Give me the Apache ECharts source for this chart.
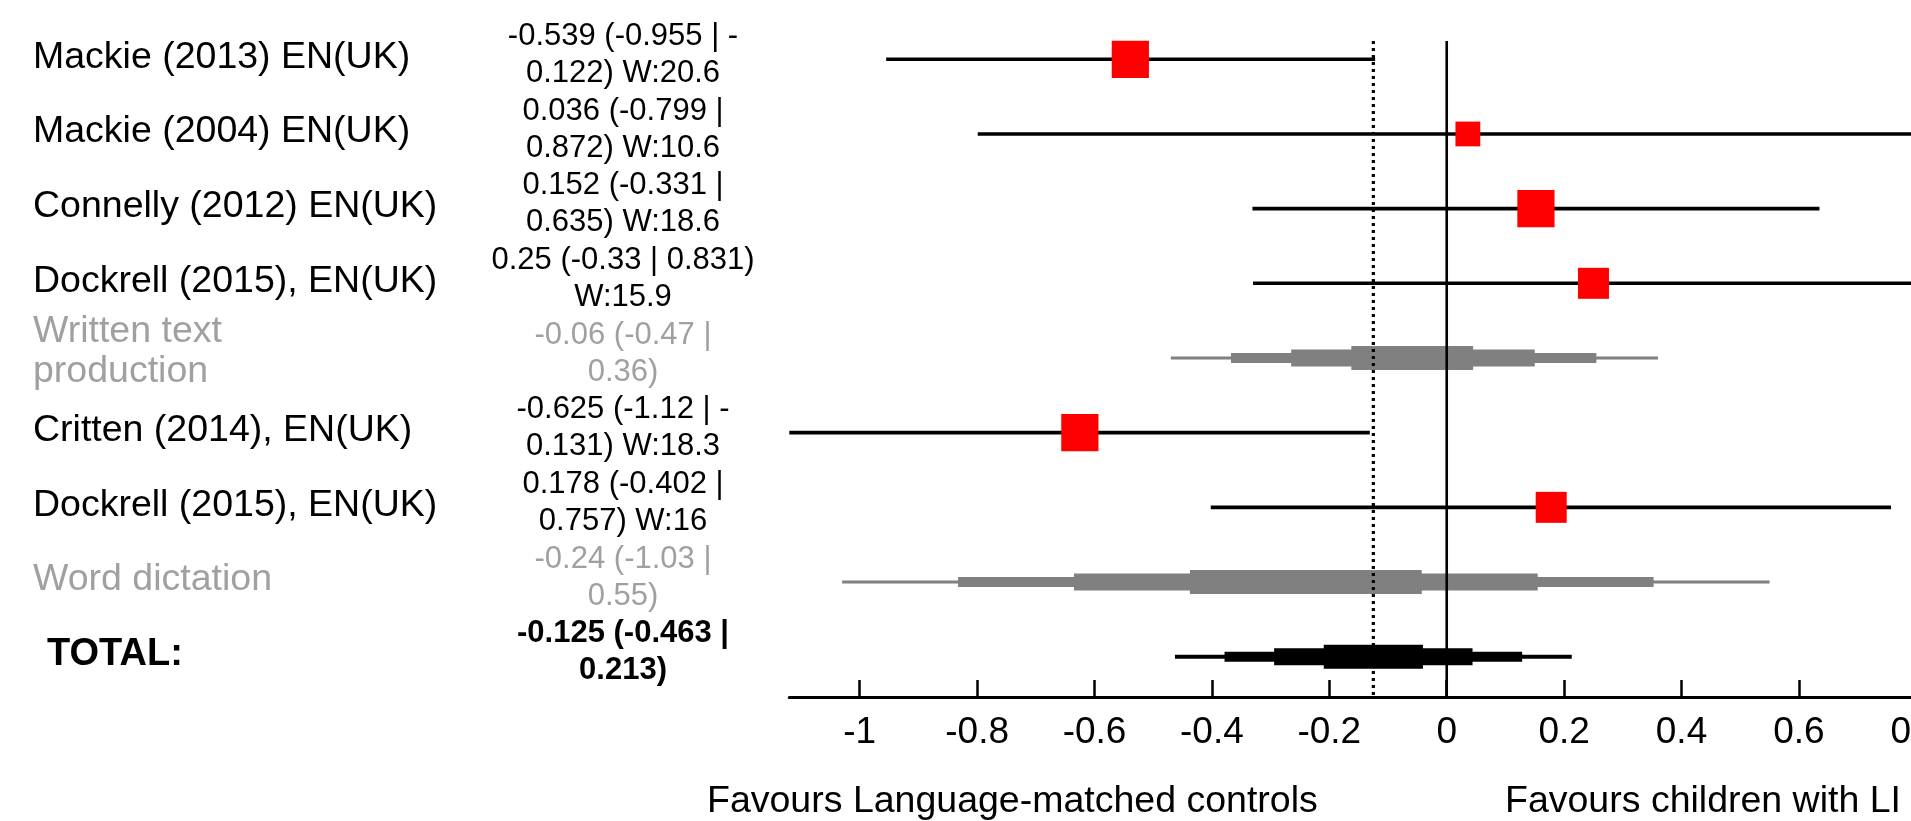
<!DOCTYPE html>
<html>
<head>
<meta charset="utf-8">
<script src="https://cdn.jsdelivr.net/npm/echarts@6/dist/echarts.min.js"></script>
<style>
  html, body { margin: 0; padding: 0; background: #fff; }
  #chart { width: 1911px; height: 821px; }
</style>
</head>
<body>
<div id="chart"></div>
<script>
// ---- data ----
const rowLabels = ["Mackie (2013) EN(UK)", "Mackie (2004) EN(UK)", "Connelly (2012) EN(UK)", "Dockrell (2015), EN(UK)",
  "Written text\nproduction", "Critten (2014), EN(UK)", "Dockrell (2015), EN(UK)", "Word dictation", "TOTAL:"];
const rowKinds = ["study", "study", "study", "study", "subgroup", "study", "study", "subgroup", "total"];
const estimates = [-0.539, 0.036, 0.152, 0.25, -0.06, -0.625, 0.178, -0.24, -0.125];
const lowerCI = [-0.955, -0.799, -0.331, -0.33, -0.47, -1.12, -0.402, -1.03, -0.463];
const upperCI = [-0.122, 0.872, 0.635, 0.831, 0.36, -0.131, 0.757, 0.55, 0.213];
const weights = [20.6, 10.6, 18.6, 15.9, null, 18.3, 16, null, null];
const ciTexts = ["-0.539 (-0.955 | -\n0.122) W:20.6", "0.036 (-0.799 |\n0.872) W:10.6", "0.152 (-0.331 |\n0.635) W:18.6",
  "0.25 (-0.33 | 0.831)\nW:15.9", "-0.06 (-0.47 |\n0.36)", "-0.625 (-1.12 | -\n0.131) W:18.3", "0.178 (-0.402 |\n0.757) W:16",
  "-0.24 (-1.03 |\n0.55)", "-0.125 (-0.463 |\n0.213)"];
const tickValues = [-1, -0.8, -0.6, -0.4, -0.2, 0, 0.2, 0.4, 0.6, 0.8];
const tickLabels = ["-1", "-0.8", "-0.6", "-0.4", "-0.2", "0", "0.2", "0.4", "0.6", "0.8"];
const nullEffect = 0;
const leftNote = "Favours Language-matched controls";
const rightNote = "Favours children with LI";

// ---- build ----
const FONT = "'Liberation Sans', Arial, sans-serif";
const totalIdx = rowKinds.indexOf("total");
const totalEst = estimates[totalIdx];

const studyLines = [], studyPoints = [], pooled = [], textRows = [];
rowKinds.forEach((k, i) => {
  if (k === "study") {
    studyLines.push([lowerCI[i], upperCI[i], i]);
    studyPoints.push([estimates[i], i, weights[i]]);
  } else {
    pooled.push([estimates[i], lowerCI[i], upperCI[i], i, k === "total" ? 1 : 0]);
  }
  textRows.push([0, i]);
});
// vertical reference lines: [x value, dotted flag]
const refLines = [[nullEffect, 0], [totalEst, 1]];

function squareSize(w) { return Math.round(Math.sqrt(w) * 1.33) * 6.2; }

const option = {
  animation: false,
  backgroundColor: "#fff",
  grid: { left: 789.3, top: 21.96, width: 1185.7, height: 675.06, containLabel: false, outerBoundsMode: "none" },
  xAxis: {
    type: "value", min: -1.12, max: 0.9, position: "bottom",
    axisLine: { show: true, onZero: false, lineStyle: { color: "#000", width: 3 } },
    axisTick: { show: true, inside: true, length: 17, customValues: tickValues, lineStyle: { color: "#000", width: 2.5 } },
    axisLabel: { show: true, customValues: tickValues, margin: 17, color: "#000", fontSize: 37, fontFamily: FONT,
      formatter: v => { const j = tickValues.findIndex(t => Math.abs(t - v) < 1e-9); return j >= 0 ? tickLabels[j] : ""; } },
    splitLine: { show: false }
  },
  yAxis: { type: "value", min: -0.5, max: 8.54, inverse: true, show: false, splitLine: { show: false } },
  graphic: [
    { type: "text", x: 707, y: 802, style: { text: leftNote, fill: "#000", fontSize: 37.5, fontFamily: FONT, align: "left", verticalAlign: "middle" } },
    { type: "text", x: 1505, y: 802, style: { text: rightNote, fill: "#000", fontSize: 37.5, fontFamily: FONT, align: "left", verticalAlign: "middle" } }
  ],
  series: [
    { // pooled stepped diamonds
      type: "custom", z: 1, clip: false,
      data: pooled,
      encode: { x: [0, 1, 2], y: 3 },
      renderItem: (params, api) => {
        const est = api.value(0), lo = api.value(1), hi = api.value(2), row = api.value(3), isTotal = api.value(4) === 1;
        const color = isTotal ? "#000" : "#808080";
        const heights = [isTotal ? 4 : 3, 10, 17, 24];
        const children = heights.map((h, k) => {
          const f = 1 - k / 4;
          const p1 = api.coord([est - f * (est - lo), row]);
          const p2 = api.coord([est + f * (hi - est), row]);
          return { type: "rect", shape: { x: p1[0], y: p1[1] - h / 2, width: p2[0] - p1[0], height: h }, style: { fill: color } };
        });
        return { type: "group", children };
      }
    },
    { // vertical reference lines (null effect, pooled estimate)
      type: "custom", z: 2, clip: false, silent: true,
      data: refLines,
      encode: { x: 0 },
      renderItem: (params, api) => {
        const x = api.value(0), dotted = api.value(1) === 1;
        const a = api.coord([x, -0.245]);
        const b = api.coord([x, 8.54]);
        return { type: "line", shape: { x1: a[0], y1: a[1], x2: b[0], y2: b[1] },
          style: dotted ? { stroke: "#000", lineWidth: 3.2, lineDash: [3, 4] } : { stroke: "#000", lineWidth: 2.6 } };
      }
    },
    { // study CI lines
      type: "custom", z: 3, clip: false,
      data: studyLines,
      encode: { x: [0, 1], y: 2 },
      renderItem: (params, api) => {
        const a = api.coord([api.value(0), api.value(2)]);
        const b = api.coord([api.value(1), api.value(2)]);
        return { type: "line", shape: { x1: a[0], y1: a[1], x2: b[0], y2: b[1] }, style: { stroke: "#000", lineWidth: 3.6 } };
      }
    },
    { // study point estimates
      type: "scatter", z: 4,
      data: studyPoints,
      symbol: "rect",
      symbolSize: v => squareSize(v[2]),
      itemStyle: { color: "#ff0000", opacity: 1 },
      emphasis: { disabled: true }
    },
    { // text columns
      type: "custom", z: 5, clip: false,
      data: textRows,
      encode: { x: 0, y: 1 },
      renderItem: (params, api) => {
        const i = params.dataIndex;
        const y = api.coord([0, api.value(1)])[1];
        const kind = rowKinds[i];
        const gray = kind === "subgroup";
        const bold = kind === "total";
        const twoLine = rowLabels[i].indexOf("\n") >= 0;
        return {
          type: "group",
          children: [
            { type: "text", x: bold ? 47 : 33, y: y + (twoLine ? -6 : -2),
              style: { text: rowLabels[i], fill: gray ? "#a0a0a0" : "#000", fontSize: bold ? 38 : 37.5,
                fontWeight: bold ? "bold" : "normal", fontFamily: FONT, align: "left", verticalAlign: "middle", lineHeight: 40 } },
            { type: "text", x: 623, y: y - 4.5,
              style: { text: ciTexts[i], fill: gray ? "#a0a0a0" : "#000", fontSize: 31,
                fontWeight: bold ? "bold" : "normal", fontFamily: FONT, align: "center", verticalAlign: "middle", lineHeight: 37 } }
          ]
        };
      }
    }
  ]
};

const chart = echarts.init(document.getElementById("chart"), null, { renderer: "canvas" });
chart.setOption(option);
</script>
</body>
</html>
